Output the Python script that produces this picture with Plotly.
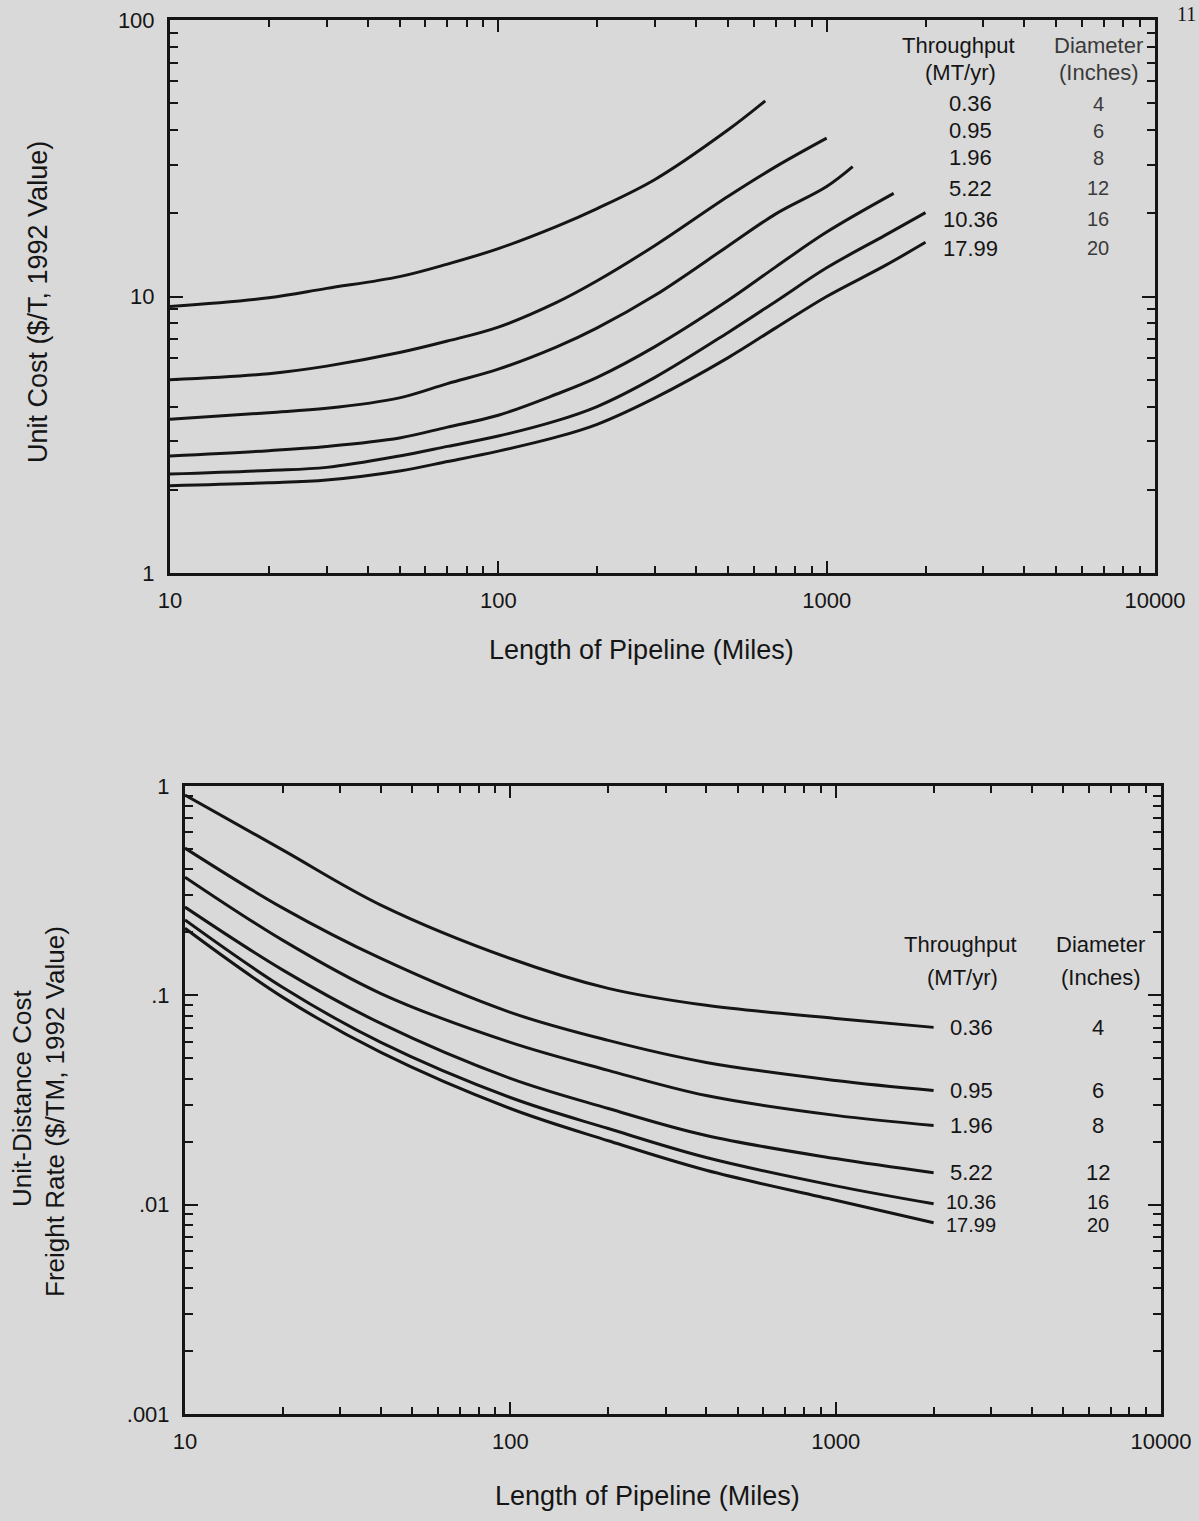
import plotly.graph_objects as go
import math

W, H = 1199, 1521

# ---- Upper panel: unit cost ($/T) vs pipeline length (miles) ----
throughput = ["0.36", "0.95", "1.96", "5.22", "10.36", "17.99"]
diameter = ["4", "6", "8", "12", "16", "20"]

len_036 = [10, 20, 30, 50, 70, 100, 150, 200, 300, 500, 650]
cost_036 = [9.2, 9.9, 10.7, 11.8, 13.1, 14.9, 17.9, 20.8, 26.5, 40.0, 51.0]

len_095 = [10, 20, 30, 50, 70, 100, 150, 200, 300, 500, 700, 1000]
cost_095 = [5.0, 5.26, 5.6, 6.27, 6.9, 7.75, 9.5, 11.4, 15.3, 23.0, 29.5, 37.4]

len_196 = [10, 20, 30, 50, 70, 100, 150, 200, 300, 500, 700, 1000, 1200]
cost_196 = [3.6, 3.8, 3.94, 4.3, 4.84, 5.46, 6.56, 7.7, 10.1, 15.2, 19.9, 25.0, 29.5]

len_522 = [10, 20, 30, 50, 70, 100, 150, 200, 300, 500, 700, 1000, 1600]
cost_522 = [2.65, 2.77, 2.87, 3.08, 3.37, 3.72, 4.43, 5.1, 6.59, 9.67, 12.8, 17.1, 23.6]

len_1036 = [10, 20, 30, 50, 70, 100, 150, 200, 300, 500, 700, 1000, 1500, 2000]
cost_1036 = [2.28, 2.35, 2.41, 2.65, 2.87, 3.13, 3.55, 4.0, 5.1, 7.4, 9.6, 12.7, 16.6, 20.1]

len_1799 = [10, 20, 30, 50, 70, 100, 150, 200, 300, 500, 700, 1000, 1500, 2000]
cost_1799 = [2.07, 2.12, 2.17, 2.34, 2.53, 2.76, 3.10, 3.45, 4.3, 6.0, 7.7, 10.0, 12.9, 15.7]

# ---- Lower panel: unit-distance freight rate ($/TM) vs pipeline length ----
len_rate = [10, 20, 40, 100, 200, 400, 1000, 2000]
rate_036 = [0.906, 0.494, 0.270, 0.150, 0.108, 0.0896, 0.0776, 0.0703]
rate_095 = [0.505, 0.261, 0.150, 0.0829, 0.0609, 0.0478, 0.0392, 0.0351]
rate_196 = [0.367, 0.183, 0.102, 0.0596, 0.0438, 0.0332, 0.0267, 0.0239]
rate_522 = [0.264, 0.132, 0.0734, 0.0401, 0.0288, 0.0214, 0.0166, 0.0142]
rate_1036 = [0.229, 0.109, 0.0596, 0.0325, 0.0231, 0.0168, 0.0123, 0.0101]
rate_1799 = [0.209, 0.0978, 0.0534, 0.0288, 0.0202, 0.0146, 0.0105, 0.0082]

x_tickvals = [10, 100, 1000, 10000]
x_ticktext = ["10", "100", "1000", "10000"]
y1_tickvals = [1, 10, 100]
y1_ticktext = ["1", "10", "100"]
y2_tickvals = [0.001, 0.01, 0.1, 1]
y2_ticktext = [".001", ".01", ".1", "1"]

FONT = "Liberation Sans, Arial, Helvetica, sans-serif"
INK = "#151515"
BG = "#d9d9d9"


def px(x):
    return x / W


def py(y):
    return 1 - y / H


upper = [(len_036, cost_036), (len_095, cost_095), (len_196, cost_196),
         (len_522, cost_522), (len_1036, cost_1036), (len_1799, cost_1799)]
lower = [rate_036, rate_095, rate_196, rate_522, rate_1036, rate_1799]

fig = go.Figure()
for (xs, ys), name in zip(upper, throughput):
    fig.add_trace(go.Scatter(x=xs, y=ys, mode="lines", name=name, xaxis="x", yaxis="y",
                             line=dict(color=INK, width=3, shape="spline", smoothing=1.0),
                             showlegend=False, hoverinfo="skip"))
for ys, name in zip(lower, throughput):
    fig.add_trace(go.Scatter(x=len_rate, y=ys, mode="lines", name=name, xaxis="x2", yaxis="y2",
                             line=dict(color=INK, width=3, shape="spline", smoothing=1.0),
                             showlegend=False, hoverinfo="skip"))


def xaxis_style(domain, anchor):
    return dict(type="log", range=[1, 4], domain=domain, anchor=anchor,
                tickmode="array", tickvals=x_tickvals, ticktext=x_ticktext,
                ticks="inside", ticklen=12, tickwidth=2, tickcolor=INK,
                minor=dict(ticks="inside", ticklen=7, tickwidth=2, tickcolor=INK,
                           dtick="D1", showgrid=False),
                mirror="allticks", showline=True, linecolor=INK, linewidth=3,
                showgrid=False, zeroline=False, automargin=False,
                ticklabelstandoff=6,
                tickfont=dict(family=FONT, size=22, color=INK))


def yaxis_style(domain, anchor, rng, vals, text):
    return dict(type="log", range=rng, domain=domain, anchor=anchor,
                tickmode="array", tickvals=vals, ticktext=text,
                ticks="inside", ticklen=13, tickwidth=2, tickcolor=INK,
                minor=dict(ticks="inside", ticklen=8, tickwidth=2, tickcolor=INK,
                           dtick="D1", showgrid=False),
                mirror="allticks", showline=True, linecolor=INK, linewidth=3,
                showgrid=False, zeroline=False, automargin=False,
                ticklabelstandoff=8,
                tickfont=dict(family=FONT, size=22, color=INK))


fig.update_layout(
    width=W, height=H,
    margin=dict(l=0, r=0, t=0, b=0, autoexpand=False),
    paper_bgcolor=BG, plot_bgcolor=BG,
    showlegend=False,
    xaxis=xaxis_style([px(170), px(1155)], "y"),
    yaxis=yaxis_style([py(573), py(20)], "x", [0, 2], y1_tickvals, y1_ticktext),
    xaxis2=xaxis_style([px(185), px(1161)], "y2"),
    yaxis2=yaxis_style([py(1414), py(786)], "x2", [-3, 0], y2_tickvals, y2_ticktext),
)

ann = []


def text(x, y, s, size=22, xanchor="center", color=INK, angle=0, xref="paper",
         yref="paper", family=FONT, yshift=0):
    ann.append(dict(x=x, y=y, xref=xref, yref=yref, text=s, showarrow=False,
                    xanchor=xanchor, yanchor="middle", textangle=angle, yshift=yshift,
                    font=dict(family=family, size=size, color=color)))


# axis titles
text(px(641), py(650), "Length of Pipeline (Miles)", size=27)
text(px(647), py(1496), "Length of Pipeline (Miles)", size=27)
text(px(38), py(302), "Unit Cost ($/T, 1992 Value)", size=27, angle=-90)
text(px(22), py(1098), "Unit-Distance Cost", size=26, angle=-90)
text(px(55), py(1112), "Freight Rate ($/TM, 1992 Value)", size=26, angle=-90)

# upper panel table
text(px(958), py(45), "Throughput", size=22)
text(px(960), py(73), "(MT/yr)", size=22)
text(px(1098), py(45), "Diameter", size=22, color="#3a3a3a")
text(px(1098), py(73), "(Inches)", size=22, color="#3a3a3a")
rows_upper = [104, 131, 158, 188, 219, 248]
for tp, dia, yy in zip(throughput, diameter, rows_upper):
    text(px(970), py(yy), tp, size=22)
    text(px(1098), py(yy), dia, size=20, color="#3a3a3a")

# lower panel labels sit at the end of each curve
text(px(960), py(945), "Throughput", size=22)
text(px(962), py(978), "(MT/yr)", size=22)
text(px(1100), py(945), "Diameter", size=22)
text(px(1100), py(978), "(Inches)", size=22)
label_shift = [0, 0, 0, 0, 2, -2]
for tp, dia, ys, sh in zip(throughput, diameter, lower, label_shift):
    yv = math.log10(ys[-1])
    size = 20 if sh else 22
    text(px(971), yv, tp, size=size, yref="y2", yshift=sh)
    text(px(1098), yv, dia, size=size, yref="y2", yshift=sh)

# page number at the corner
text(px(1198), py(14), "11", size=20, xanchor="right",
     family="Liberation Serif, Times New Roman, serif")

fig.update_layout(annotations=ann)
fig.write_html("out.html")
